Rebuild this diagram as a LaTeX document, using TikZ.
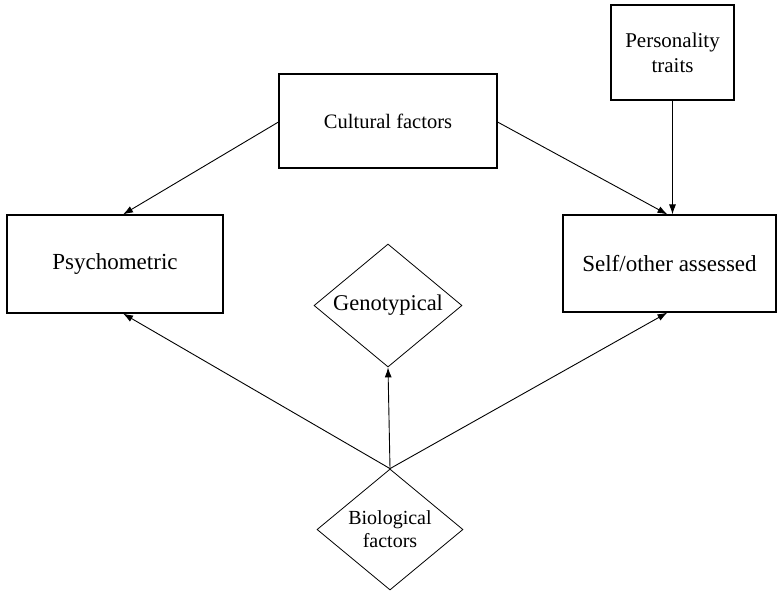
\documentclass[tikz,border=0pt]{standalone}
\usepackage{fontspec}
\setmainfont{Liberation Serif}
\usetikzlibrary{shapes.geometric,arrows.meta,calc}
\tikzset{
  boxnode/.style={draw, line width=1.1pt, inner sep=0pt, anchor=center},
  dianode/.style={draw, diamond, aspect=1.2, line width=0.8pt, inner sep=0pt, anchor=center},
  conn/.style={line width=0.9pt, -{Latex[length=10pt,width=7pt]}},
}
\begin{document}
\begin{tikzpicture}[x=1pt,y=-1pt]
\useasboundingbox (0,0) rectangle (778,592);
\node[boxnode, minimum width=218pt, minimum height=94pt, font=\rmfamily\fontsize{20.5}{24}\selectfont] (cult) at (388,121) {Cultural factors};
\node[boxnode, minimum width=123pt, minimum height=95pt, align=center, font=\rmfamily\fontsize{21}{25}\selectfont] (pers) at (672.5,52.5) {Personality\\traits};
\node[boxnode, minimum width=216pt, minimum height=98pt, font=\rmfamily\fontsize{23}{27}\selectfont] (psy) at (115,264) {Psychometric};
\node[boxnode, minimum width=213pt, minimum height=97pt, font=\rmfamily\fontsize{23}{27}\selectfont] (self) at (669.5,263.5) {Self/other assessed};
\node[dianode, minimum width=148pt, minimum height=123pt, font=\rmfamily\fontsize{22.5}{26}\selectfont] (geno) at (388,305.5) {Genotypical};
\node[dianode, minimum width=146pt, minimum height=121pt, align=center, font=\rmfamily\fontsize{20}{23}\selectfont] (bio) at (390,529.5) {Biological\\factors};
\draw[conn] ([yshift=-1pt]cult.west) -- ([xshift=8pt]psy.north);
\draw[conn] ([yshift=-1pt]cult.east) -- ([xshift=-2pt]self.north);
\draw[conn] (pers.south) -- (pers.south |- self.north);
\draw[conn] (bio.north) -- ([xshift=8pt]psy.south);
\draw[conn] (bio.north) -- ([xshift=-2pt]self.south);
\draw[conn] (bio.north) -- (geno.south);
\end{tikzpicture}
\end{document}
